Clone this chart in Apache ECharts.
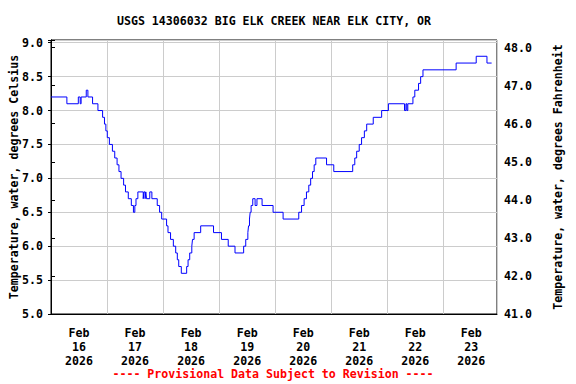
<!DOCTYPE html>
<html><head><meta charset="utf-8">
<script src="https://cdn.jsdelivr.net/npm/echarts@6/dist/echarts.min.js"></script>
<style>html,body{margin:0;padding:0;background:#fff}#c{width:576px;height:384px}</style>
</head><body><div id="c"></div>
<script>
const chartTitle = 'USGS 14306032 BIG ELK CREEK NEAR ELK CITY, OR';
const footerText = '---- Provisional Data Subject to Revision ----';
const leftAxisName = 'Temperature, water, degrees Celsius';
const rightAxisName = 'Temperature, water, degrees Fahrenheit';
const dayMonth = 'Feb';
const dayNumbers = ['16', '17', '18', '19', '20', '21', '22', '23'];
const dayYear = '2026';

// hours since Feb 16 00:00 at which the reading changes, and the reading (deg C)
const hours = [0, 6.8, 11.7, 12.5, 12.9, 15.1, 15.8, 17.8, 20.1, 22.1, 22.9, 23.5, 24.1, 25.0, 26.3, 27.3, 28.3, 29.1, 30.0, 31.1,
  31.9, 33.1, 34.4, 35.3, 35.9, 36.4, 37.2, 39.5, 39.8, 40.3, 40.6, 40.9, 42.3, 43.2, 45.5, 46.5, 47.4, 49.5, 50.1, 51.2,
  52.4, 53.4, 54.1, 54.7, 55.8, 58.1, 58.7, 59.4, 60.3, 60.6, 61.3, 64.1, 69.6, 73.0, 75.9, 78.8, 82.5, 83.4, 84.3, 84.6,
  85.0, 85.3, 85.7, 86.4, 87.4, 88.2, 90.4, 95.1, 99.4, 106.1, 107.3, 108.4, 109.4, 110.4, 111.2, 112.0, 112.7, 113.4, 118.0, 121.1,
  129.2, 130.1, 130.9, 132.0, 133.0, 134.2, 135.2, 138.0, 141.6, 144.5, 151.4, 152.0, 152.4, 152.8, 155.0, 155.8, 157.4, 158.3, 159.3, 173.5,
  182.1, 186.7, 188.7];
const tempC = [8.2, 8.1, 8.2, 8.1, 8.2, 8.3, 8.2, 8.1, 8.0, 7.9, 7.8, 7.7, 7.6, 7.5, 7.4, 7.3, 7.2, 7.1, 7.0, 6.9,
  6.8, 6.7, 6.6, 6.5, 6.6, 6.7, 6.8, 6.7, 6.8, 6.7, 6.8, 6.7, 6.8, 6.7, 6.6, 6.5, 6.4, 6.3, 6.2, 6.1,
  6.0, 5.9, 5.8, 5.7, 5.6, 5.7, 5.8, 5.9, 6.0, 6.1, 6.2, 6.3, 6.2, 6.1, 6.0, 5.9, 6.0, 6.1, 6.2, 6.3,
  6.4, 6.5, 6.6, 6.7, 6.6, 6.7, 6.6, 6.5, 6.4, 6.5, 6.6, 6.7, 6.8, 6.9, 7.0, 7.1, 7.2, 7.3, 7.2, 7.1,
  7.2, 7.3, 7.4, 7.5, 7.6, 7.7, 7.8, 7.9, 8.0, 8.1, 8.0, 8.1, 8.0, 8.1, 8.2, 8.3, 8.4, 8.5, 8.6, 8.7,
  8.8, 8.7, 8.7];

const FONT = 'DejaVu Sans Mono';
const FS = 11.6;
const isMult = (v, s) => Math.abs(v / s - Math.round(v / s)) < 1e-6;

const chart = echarts.init(document.getElementById('c'), null, { renderer: 'svg' });
const txt = { fontFamily: FONT, fontWeight: 'bold', fontSize: FS, color: '#000' };

chart.setOption({
  animation: false,
  backgroundColor: '#fff',
  grid: { left: 51, right: 79, top: 40, bottom: 70, containLabel: false, outerBoundsMode: 'none',
    show: true, borderColor: '#000', borderWidth: 1, backgroundColor: 'transparent' },
  graphic: [
    { type: 'text', x: 274, y: 21, style: { text: chartTitle, font: 'bold ' + FS + 'px "' + FONT + '"', fill: '#000', align: 'center', verticalAlign: 'middle' } },
    { type: 'text', x: 273, y: 374, style: { text: footerText, font: 'bold ' + FS + 'px "' + FONT + '"', fill: '#ff0000', align: 'center', verticalAlign: 'middle' } }
  ],
  xAxis: [
    {
      type: 'value', min: 0, max: 191, interval: 12, position: 'bottom',
      axisLine: { show: true, lineStyle: { color: '#000', width: 1 } },
      axisTick: { show: false }, splitLine: { show: false },
      axisLabel: Object.assign({}, txt, {
        margin: 12, lineHeight: 14, hideOverlap: false,
        formatter: v => {
          const d = (v - 12) / 24;
          if (isMult(d, 1) && d >= 0 && d < dayNumbers.length) return dayMonth + '\n' + dayNumbers[Math.round(d)] + '\n' + dayYear;
          return '';
        }
      })
    },
    {
      type: 'value', min: 0, max: 191, interval: 24, position: 'bottom',
      axisLine: { show: false }, axisTick: { show: false }, axisLabel: { show: false },
      splitLine: { show: true, lineStyle: { color: '#cccccc', width: 1 } }
    }
  ],
  yAxis: [
    {
      type: 'value', position: 'left', min: 5, max: 9.04, interval: 0.5,
      axisLine: { show: true, lineStyle: { color: '#000', width: 1 } },
      axisTick: { show: true, length: 3, lineStyle: { color: '#000' } },
      splitLine: { show: true, lineStyle: { color: '#cccccc', width: 1 } },
      axisLabel: Object.assign({}, txt, { margin: 8, formatter: v => isMult(v, 0.5) ? v.toFixed(1) : '' }),
      name: leftAxisName, nameLocation: 'middle', nameGap: 31, nameRotate: 90, nameMoveOverlap: false,
      nameTextStyle: Object.assign({}, txt)
    },
    {
      type: 'value', position: 'right', min: 41, max: 48.2, interval: 1,
      axisLine: { show: true, lineStyle: { color: '#000', width: 1 } },
      axisTick: { show: true, length: 4, lineStyle: { color: '#000' } },
      splitLine: { show: false },
      axisLabel: Object.assign({}, txt, { margin: 7, formatter: v => isMult(v, 1) ? v.toFixed(1) : '' }),
      name: rightAxisName, nameLocation: 'middle', nameGap: 55, nameRotate: 90, nameMoveOverlap: false,
      nameTextStyle: Object.assign({}, txt)
    }
  ],
  series: [{
    type: 'line', xAxisIndex: 0, yAxisIndex: 0, step: 'end',
    symbol: 'none', showSymbol: false,
    lineStyle: { color: '#0000ff', width: 1 },
    data: hours.map((h, i) => [h, tempC[i]])
  }]
});
</script></body></html>
